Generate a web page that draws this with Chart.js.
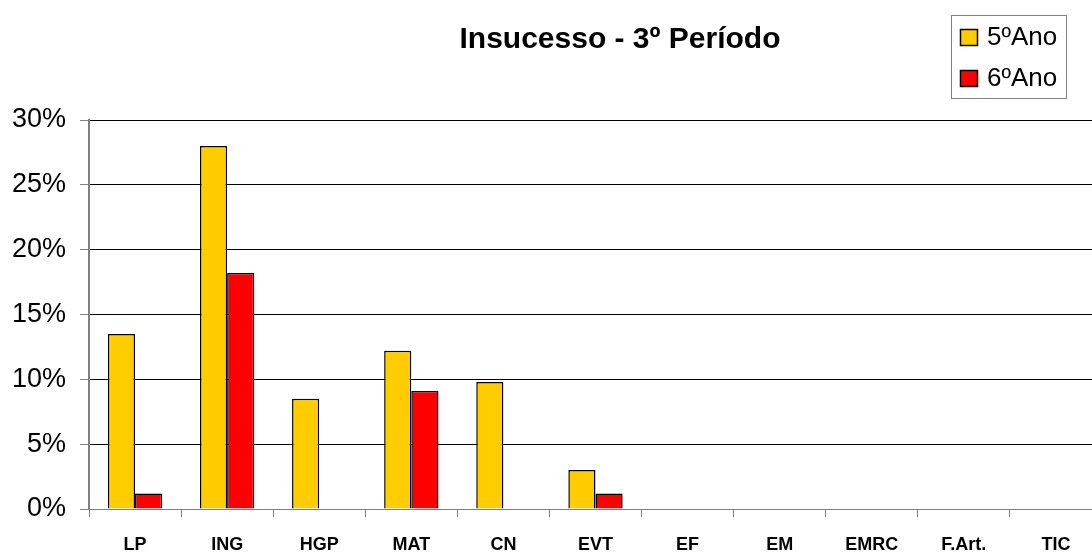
<!DOCTYPE html>
<html>
<head>
<meta charset="utf-8">
<script src="https://cdn.jsdelivr.net/npm/chart.js@4"></script>
<style>
    html, body { margin: 0; padding: 0; overflow: hidden; background: #fff; }
    #grafico { display: block; }
</style>
</head>
<body>
<canvas id="grafico" width="1104" height="552"></canvas>
<script>
const titulo = 'Insucesso - 3º Período'
const disciplinas = ['LP', 'ING', 'HGP', 'MAT', 'CN', 'EVT', 'EF', 'EM', 'EMRC', 'F.Art.', 'TIC']
const ano5 = [13.5, 28.0, 8.5, 12.2, 9.8, 3.0, 0, 0, 0, 0, 0]
const ano6 = [1.2, 18.2, 0, 9.1, 0, 1.2, 0, 0, 0, 0, 0]
const ticksY = [0, 5, 10, 15, 20, 25, 30]

const fonte = '"Liberation Sans", Arial, sans-serif'

// titulo e legenda desenhados a mao (posicao livre como no Excel)
const tituloLegenda = {
    id: 'tituloLegenda',
    afterDraw(chart) {
        const ctx = chart.ctx
        ctx.save()
        ctx.fillStyle = '#000'
        ctx.font = `bold 30px ${fonte}`
        ctx.textAlign = 'center'
        ctx.textBaseline = 'middle'
        ctx.fillText(titulo, 620, 40)

        // caixa da legenda
        ctx.strokeStyle = '#808080'
        ctx.lineWidth = 1
        ctx.strokeRect(951.5, 15.5, 115, 83)
        ctx.font = `26px ${fonte}`
        ctx.textAlign = 'left'
        chart.data.datasets.forEach((ds, i) => {
            const y = 29 + i * 41
            ctx.fillStyle = ds.backgroundColor
            ctx.fillRect(960, y, 18, 17)
            ctx.strokeStyle = '#000'
            ctx.lineWidth = 1.5
            ctx.strokeRect(960.5, y + 0.5, 17, 16)
            ctx.fillStyle = '#000'
            ctx.fillText(ds.label, 987, y + 9)
        })
        ctx.restore()
    }
}

const canvas = document.getElementById('grafico')

var data = {
    labels: disciplinas,
    datasets: [
        {
            label: '5ºAno',
            data: ano5,
            backgroundColor: '#FFCC00',
            borderColor: '#000',
            borderWidth: 1.5
        },
        {
            label: '6ºAno',
            data: ano6,
            backgroundColor: '#FF0000',
            borderColor: '#000',
            borderWidth: 1.5
        }
    ]
}

var options = {
    responsive: false,
    animation: false,
    layout: {
        padding: { left: 10, top: 120, right: 2, bottom: 0 }
    },
    categoryPercentage: 0.59,
    barPercentage: 1,
    plugins: {
        legend: { display: false },
        title: { display: false },
        tooltip: { enabled: false }
    },
    scales: {
        x: {
            afterFit: (axis) => { axis.height = 43 },
            grid: {
                offset: true,
                drawOnChartArea: false,
                drawTicks: true,
                tickLength: 8,
                tickColor: '#808080'
            },
            border: { color: '#808080', width: 1 },
            ticks: {
                color: '#000',
                padding: 17,
                maxRotation: 0,
                autoSkip: false,
                font: { family: fonte, size: 18, weight: 'bold' }
            }
        },
        y: {
            min: 0,
            max: 30,
            afterBuildTicks: (axis) => {
                axis.ticks = ticksY.map(v => ({ value: v }))
            },
            afterFit: (axis) => { axis.width = 79 },
            grid: {
                color: '#000',
                lineWidth: 1,
                tickLength: 9,
                tickColor: '#808080'
            },
            border: { color: '#808080', width: 2 },
            ticks: {
                color: '#000',
                padding: 14,
                callback: (v) => `${v}%`,
                font: { family: fonte, size: 27 }
            }
        }
    }
}

var config = {
    type: 'bar',
    data: data,
    options: options,
    plugins: [tituloLegenda]
}

var grafico = new Chart(canvas, config)
</script>
</body>
</html>
